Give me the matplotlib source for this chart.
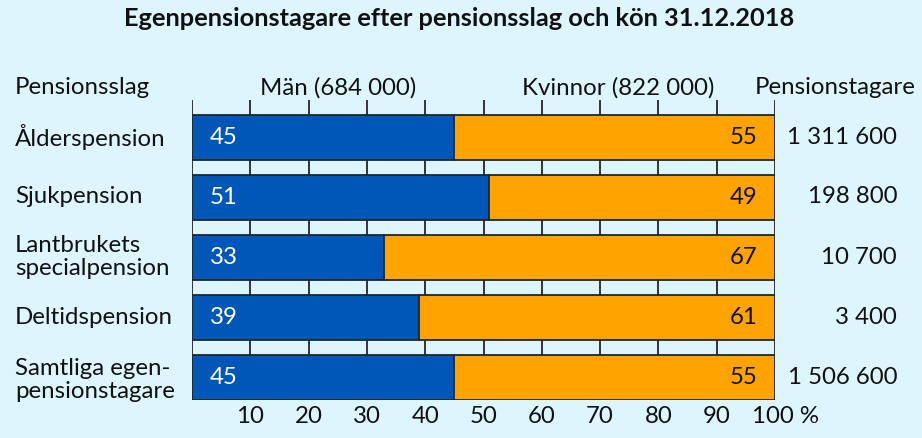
import matplotlib
matplotlib.use("Agg")
import matplotlib.pyplot as plt
import matplotlib.transforms as mtransforms

categories = ["Ålderspension", "Sjukpension", "Lantbrukets\nspecialpension",
              "Deltidspension", "Samtliga egen-\npensionstagare"]
men = [45, 51, 33, 39, 45]
women = [55, 49, 67, 61, 55]
totals = ["1 311 600", "198 800", "10 700", "3 400", "1 506 600"]
xticks = [10, 20, 30, 40, 50, 60, 70, 80, 90, 100]
xticklabels = ["10", "20", "30", "40", "50", "60", "70", "80", "90", "100 %"]

plt.rcParams['font.family'] = ['Lato', 'DejaVu Sans']
BG = "#ddf5fd"
BLUE = "#0057b7"
ORANGE = "#ffa300"
EDGE = "#1c2733"
FS = 17.3

fig = plt.figure(figsize=(9.22, 4.38), dpi=100, facecolor=BG)
W, H = 922, 438
ax = fig.add_axes([192 / W, (H - 400) / H, (775 - 192) / W, 300 / H])
ax.set_facecolor(BG)

y = list(range(len(categories)))
ax.barh(y, men, height=0.75, color=BLUE, edgecolor=EDGE, linewidth=1.3, zorder=3)
ax.barh(y, women, left=men, height=0.75, color=ORANGE, edgecolor=EDGE, linewidth=1.3, zorder=3)

ax.set_xlim(0, 100)
ax.set_ylim(4.375, -0.617)

for x in [0] + xticks:
    ax.axvline(x, color="#333333", linewidth=1.4, zorder=1)

for s in ax.spines.values():
    s.set_visible(False)

ax.set_yticks([])
ax.set_xticks(xticks)
ax.set_xticklabels(xticklabels, fontsize=FS, color="#111111")
ax.tick_params(axis='x', length=0, pad=4)
lbls = ax.get_xticklabels()
last = lbls[-1]
last.set_ha('left')
last.set_transform(last.get_transform() + mtransforms.ScaledTranslation(-23 / 100, 0, fig.dpi_scale_trans))

for i in y:
    ax.text(3, i, str(men[i]), color="white", fontsize=FS, va='center', ha='left', zorder=4)
    ax.text(97, i, str(women[i]), color="#111111", fontsize=FS, va='center', ha='right', zorder=4)

# left labels and right totals (figure coords)
row_centers = [137, 197, 257, 317, 380]
for i, yc in enumerate(row_centers):
    fig.text(15 / W, 1 - yc / H, categories[i], fontsize=FS, va='center', ha='left',
             linespacing=1.12, color="#111111")
    fig.text(897 / W, 1 - [137, 197, 257, 317, 377][i] / H, totals[i], fontsize=FS,
             va='center', ha='right', color="#111111")

hy = 1 - 88 / H
fig.text(15 / W, hy, "Pensionsslag", fontsize=FS, va='center', ha='left', color="#111111")
fig.text(338 / W, hy, "Män (684 000)", fontsize=FS, va='center', ha='center', color="#111111")
fig.text(618 / W, hy, "Kvinnor (822 000)", fontsize=FS, va='center', ha='center', color="#111111")
fig.text(916 / W, hy, "Pensionstagare", fontsize=FS, va='center', ha='right', color="#111111")

fig.text(459 / W, 1 - 19 / H, "Egenpensionstagare efter pensionsslag och kön 31.12.2018",
         fontsize=18.3, fontweight='bold', va='center', ha='center', color="#111111")

fig.savefig("out.png", dpi=100, facecolor=BG)
